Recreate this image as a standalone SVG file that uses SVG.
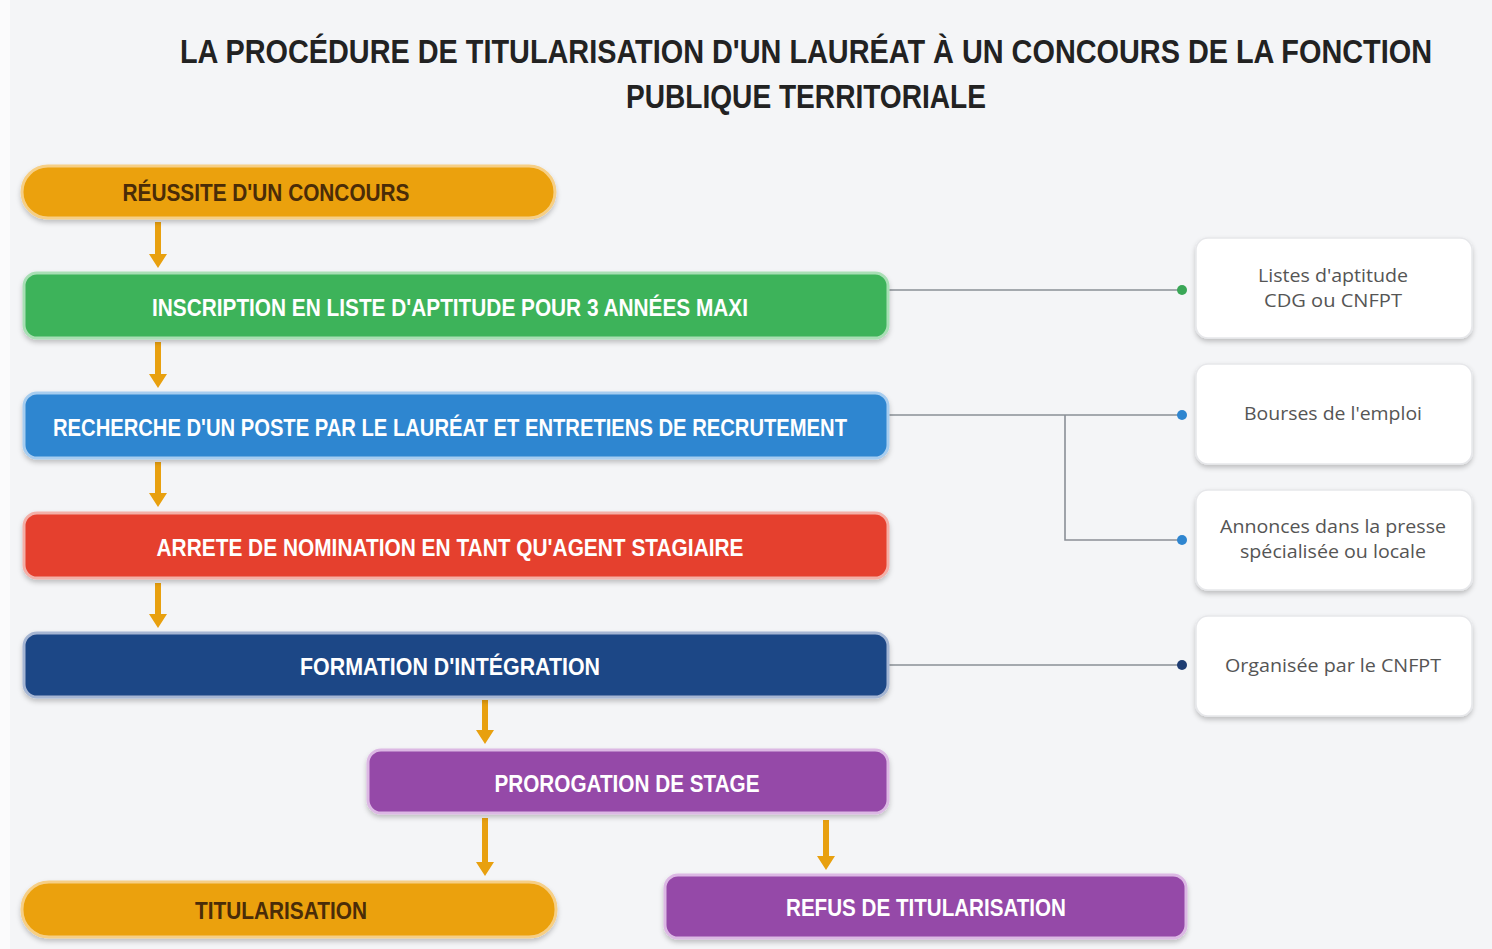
<svg xmlns="http://www.w3.org/2000/svg" width="1492" height="949" viewBox="0 0 1492 949">
<defs>
<filter id="sh" x="-5%" y="-20%" width="110%" height="150%">
<feDropShadow dx="0" dy="3" stdDeviation="2.5" flood-color="#000" flood-opacity="0.22"/>
</filter>
<marker id="ah" viewBox="0 0 10 10" refX="5" refY="9" markerWidth="4.2" markerHeight="3.6" orient="auto" markerUnits="strokeWidth">
</marker>
</defs>
<style>
.title{font-family:"Liberation Sans",Arial,sans-serif;font-weight:bold;font-size:33px;fill:#222;}
.lbl{font-family:"Liberation Sans",Arial,sans-serif;font-weight:bold;font-size:24px;fill:#fff;text-anchor:middle;}
.dark{fill:#4a2c08;}
.side{font-family:"Open Sans","Liberation Sans",sans-serif;font-size:19px;fill:#555;text-anchor:middle;}
.box{stroke-width:3;filter:url(#sh);}
.card{fill:#fff;stroke:#e6e7ea;stroke-width:1.5;filter:url(#sh);}
.conn{stroke:#8a8f96;stroke-width:1.6;fill:none;}
.arr{fill:#E8A00F;}
</style>
<rect width="1492" height="949" fill="#f4f5f7"/>
<rect x="0" y="0" width="10" height="949" fill="#fbfbfc"/>

<g id="title">
<text class="title" x="180" y="63" textLength="1252" lengthAdjust="spacingAndGlyphs">LA PROCÉDURE DE TITULARISATION D'UN LAURÉAT À UN CONCOURS DE LA FONCTION</text>
<text class="title" x="626" y="108" textLength="360" lengthAdjust="spacingAndGlyphs">PUBLIQUE TERRITORIALE</text>
</g>

<g id="connectors">
<line class="conn" x1="888" y1="290" x2="1182" y2="290"/>
<circle cx="1182" cy="290" r="5" fill="#3aa757"/>
<line class="conn" x1="888" y1="415" x2="1182" y2="415"/>
<circle cx="1182" cy="415" r="5" fill="#2f86d0"/>
<polyline class="conn" points="1065,415 1065,540 1182,540"/>
<circle cx="1182" cy="540" r="5" fill="#2f86d0"/>
<line class="conn" x1="888" y1="665" x2="1182" y2="665"/>
<circle cx="1182" cy="665" r="5" fill="#1e3d73"/>
<g id="arrows">
<path class="arr" d="M155,222 h6 v32 h6 l-9,14 l-9,-14 h6 z"/>
<path class="arr" d="M155,342 h6 v32 h6 l-9,14 l-9,-14 h6 z"/>
<path class="arr" d="M155,462 h6 v31 h6 l-9,14 l-9,-14 h6 z"/>
<path class="arr" d="M155,583 h6 v31 h6 l-9,14 l-9,-14 h6 z"/>
<path class="arr" d="M482,700 h6 v30 h6 l-9,14 l-9,-14 h6 z"/>
<path class="arr" d="M482,818 h6 v44 h6 l-9,14 l-9,-14 h6 z"/>
<path class="arr" d="M823,820 h6 v36 h6 l-9,14 l-9,-14 h6 z"/>
</g>
</g>

<g id="n-reussite">
<rect class="box" x="22" y="166" width="533" height="52" rx="26" fill="#EBA10D" stroke="#f6cf86"/>
<text class="lbl dark" x="266" y="201" textLength="287" lengthAdjust="spacingAndGlyphs">RÉUSSITE D'UN CONCOURS</text>
</g>
<g id="n-inscription">
<rect class="box" x="24" y="273" width="864" height="65" rx="13" fill="#3DB35A" stroke="#a9dfb5"/>
<text class="lbl" x="450" y="316" textLength="596" lengthAdjust="spacingAndGlyphs">INSCRIPTION EN LISTE D'APTITUDE POUR 3 ANNÉES MAXI</text>
</g>
<g id="n-recherche">
<rect class="box" x="24" y="393" width="864" height="65" rx="13" fill="#2F86D0" stroke="#a7cdef"/>
<text class="lbl" x="450" y="436" textLength="794" lengthAdjust="spacingAndGlyphs">RECHERCHE D'UN POSTE PAR LE LAURÉAT ET ENTRETIENS DE RECRUTEMENT</text>
</g>
<g id="n-arrete">
<rect class="box" x="24" y="513" width="864" height="65" rx="13" fill="#E5412F" stroke="#f3b0a8"/>
<text class="lbl" x="450" y="556" textLength="587" lengthAdjust="spacingAndGlyphs">ARRETE DE NOMINATION EN TANT QU'AGENT STAGIAIRE</text>
</g>
<g id="n-formation">
<rect class="box" x="24" y="633" width="864" height="64" rx="13" fill="#1E4686" stroke="#a6b6d3"/>
<text class="lbl" x="450" y="675" textLength="300" lengthAdjust="spacingAndGlyphs">FORMATION D'INTÉGRATION</text>
</g>
<g id="n-prorogation">
<rect class="box" x="368" y="750" width="520" height="63" rx="13" fill="#9548A8" stroke="#dcb8e4"/>
<text class="lbl" x="627" y="792" textLength="265" lengthAdjust="spacingAndGlyphs">PROROGATION DE STAGE</text>
</g>
<g id="n-titularisation">
<rect class="box" x="22" y="882" width="534" height="55" rx="27" fill="#EBA10D" stroke="#f6cf86"/>
<text class="lbl dark" x="281" y="919" textLength="172" lengthAdjust="spacingAndGlyphs">TITULARISATION</text>
</g>
<g id="n-refus">
<rect class="box" x="665" y="875" width="521" height="63" rx="13" fill="#9548A8" stroke="#dcb8e4"/>
<text class="lbl" x="926" y="916" textLength="280" lengthAdjust="spacingAndGlyphs">REFUS DE TITULARISATION</text>
</g>

<g id="s-listes">
<rect class="card" x="1196" y="238" width="276" height="100" rx="12"/>
<text class="side" x="1333" y="282" textLength="150" lengthAdjust="spacingAndGlyphs">Listes d'aptitude</text>
<text class="side" x="1333" y="307" textLength="138" lengthAdjust="spacingAndGlyphs">CDG ou CNFPT</text>
</g>
<g id="s-bourses">
<rect class="card" x="1196" y="364" width="276" height="100" rx="12"/>
<text class="side" x="1333" y="420" textLength="178" lengthAdjust="spacingAndGlyphs">Bourses de l'emploi</text>
</g>
<g id="s-annonces">
<rect class="card" x="1196" y="490" width="276" height="100" rx="12"/>
<text class="side" x="1333" y="533" textLength="226" lengthAdjust="spacingAndGlyphs">Annonces dans la presse</text>
<text class="side" x="1333" y="558" textLength="186" lengthAdjust="spacingAndGlyphs">spécialisée ou locale</text>
</g>
<g id="s-organisee">
<rect class="card" x="1196" y="616" width="276" height="100" rx="12"/>
<text class="side" x="1333" y="672" textLength="216" lengthAdjust="spacingAndGlyphs">Organisée par le CNFPT</text>
</g>
</svg>
